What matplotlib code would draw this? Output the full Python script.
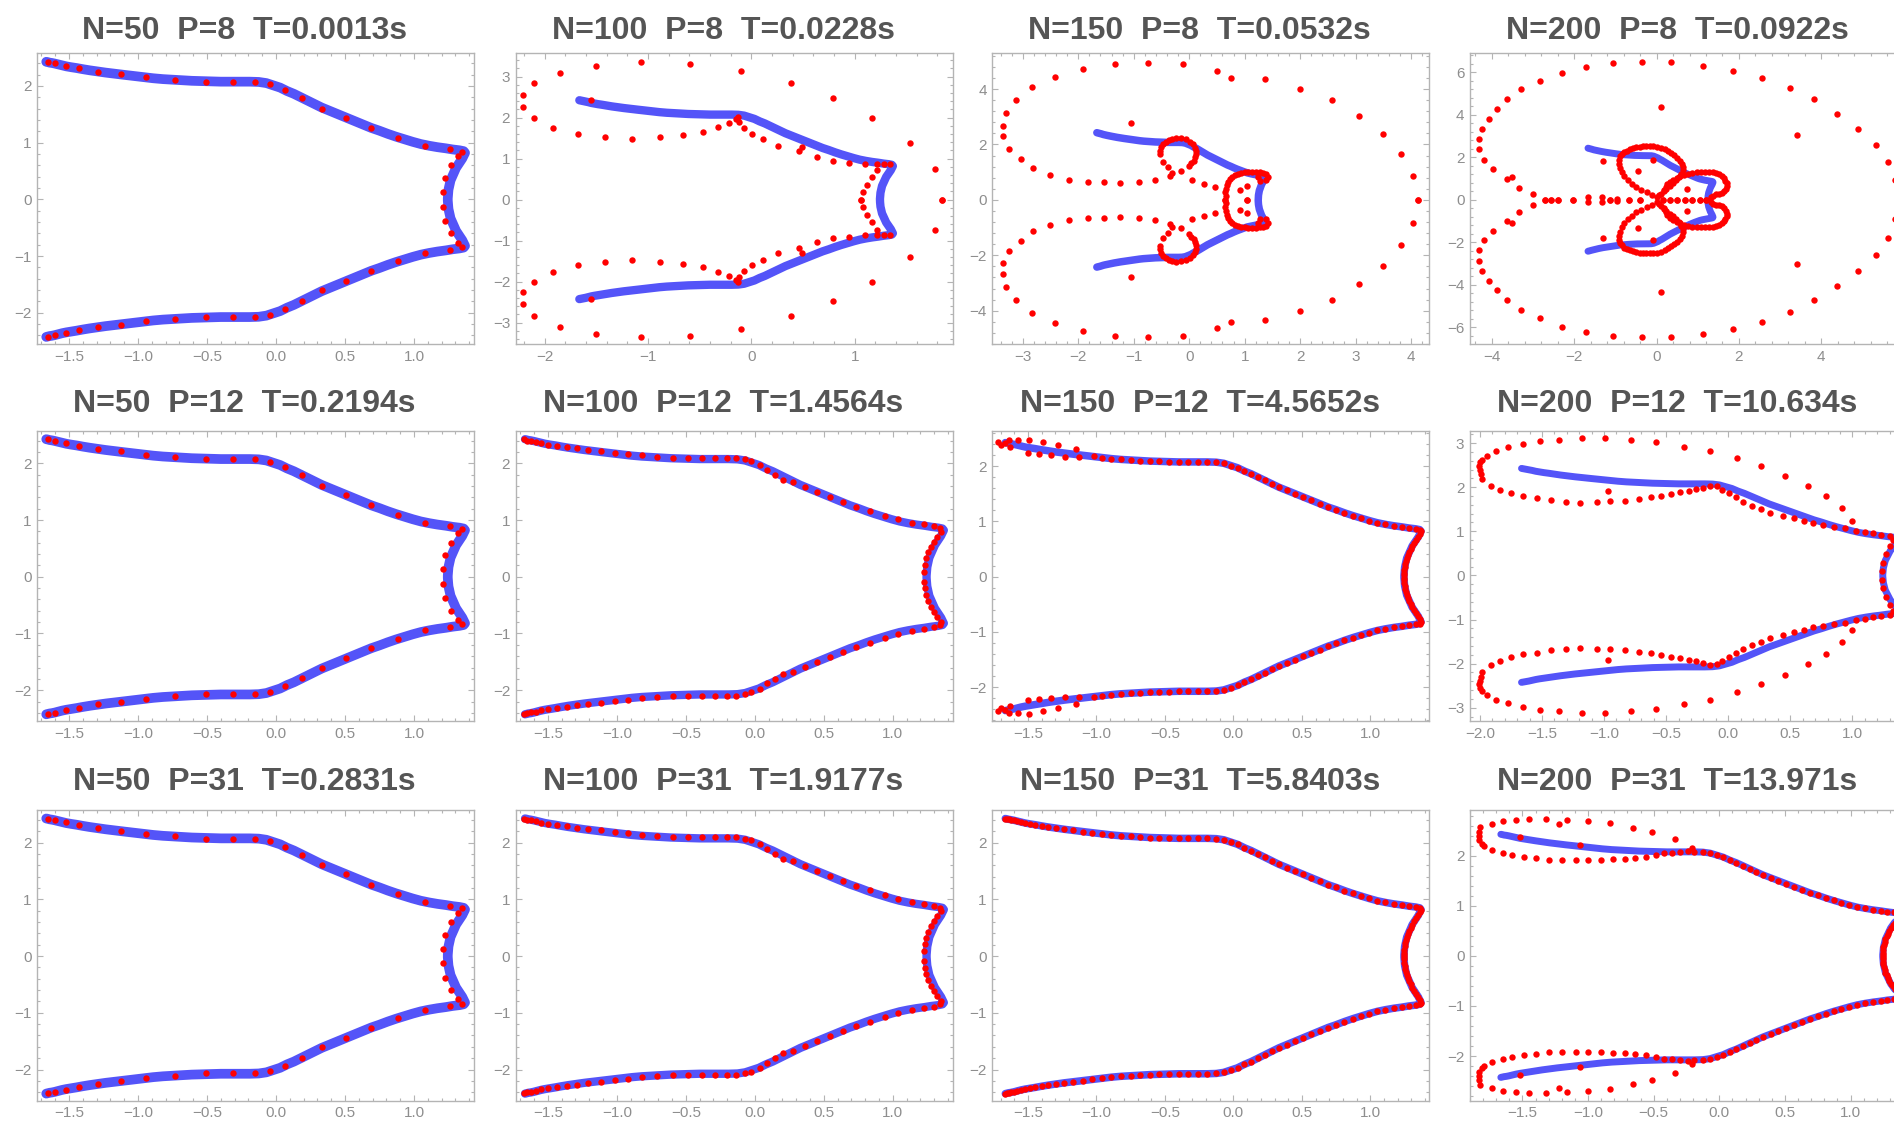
import numpy as np
import matplotlib
matplotlib.use("Agg")
import matplotlib.pyplot as plt
from matplotlib.ticker import AutoMinorLocator, FuncFormatter

# ---- data (upper halves, the plots are symmetric in y) ----
n_values = [50, 100, 150, 200]
p_values = [8, 12, 31]
times = [["0.0013", "0.0228", "0.0532", "0.0922"],
         ["0.2194", "1.4564", "4.5652", "10.634"],
         ["0.2831", "1.9177", "5.8403", "13.971"]]

# reference curve (blue)
curve_x = [-1.665, -1.655, -1.64, -1.625, -1.605, -1.58, -1.55, -1.52, -1.485, -1.445, -1.40,
           -1.35, -1.295, -1.235, -1.17, -1.10, -1.03, -0.96, -0.89, -0.82, -0.75, -0.68,
           -0.61, -0.54, -0.47, -0.40, -0.33, -0.26, -0.19, -0.125, -0.07,
           -0.02, 0.03, 0.08, 0.13, 0.18, 0.23, 0.28, 0.33, 0.39, 0.45, 0.51, 0.57, 0.63,
           0.69, 0.75, 0.81, 0.87, 0.93, 0.99, 1.05, 1.11, 1.17, 1.23, 1.28, 1.33, 1.36,
           1.37, 1.36, 1.35, 1.335, 1.32, 1.305, 1.295, 1.285, 1.275, 1.265, 1.26, 1.255,
           1.25, 1.248, 1.246, 1.245]
curve_y = [2.425, 2.42, 2.41, 2.405, 2.395, 2.38, 2.36, 2.345, 2.33, 2.315, 2.295,
           2.275, 2.255, 2.235, 2.215, 2.195, 2.175, 2.155, 2.135, 2.12, 2.11, 2.10,
           2.09, 2.085, 2.08, 2.075, 2.075, 2.075, 2.075, 2.07, 2.05,
           2.01, 1.97, 1.91, 1.86, 1.80, 1.74, 1.68, 1.62, 1.56, 1.50, 1.44, 1.38, 1.32,
           1.26, 1.21, 1.155, 1.105, 1.06, 1.015, 0.975, 0.945, 0.92, 0.90, 0.88, 0.865, 0.85,
           0.82, 0.77, 0.72, 0.665, 0.61, 0.555, 0.50, 0.445, 0.39, 0.335, 0.28, 0.225,
           0.17, 0.115, 0.06, 0.02]

# N=50 reconstructions (same for P=8,12,31)
n50_x = [-1.655, -1.601, -1.524, -1.428, -1.292, -1.123, -0.942, -0.732, -0.510, -0.309,
         -0.152, -0.041, 0.068, 0.191, 0.336, 0.505, 0.688, 0.881, 1.082, 1.258, 1.345,
         1.321, 1.268, 1.225, 1.208]
n50_y = [2.42, 2.40, 2.357, 2.31, 2.25, 2.21, 2.15, 2.11, 2.07, 2.07, 2.07, 2.03, 1.93,
         1.79, 1.60, 1.44, 1.26, 1.09, 0.946, 0.887, 0.84, 0.764, 0.60, 0.38, 0.13]

# N=100, P=12 / P=31
n100_x = [-1.674, -1.65, -1.625, -1.587, -1.546, -1.498, -1.432, -1.36, -1.288, -1.208,
          -1.118, -1.014, -0.918, -0.814, -0.712, -0.592, -0.483, -0.379, -0.29, -0.205,
          -0.133, -0.072, -0.024, 0.036, 0.089, 0.145, 0.205, 0.278, 0.362, 0.452, 0.543,
          0.64, 0.737, 0.838, 0.942, 1.039, 1.14, 1.227, 1.297, 1.34, 1.352, 1.321, 1.297,
          1.28, 1.256, 1.244, 1.232, 1.225]
n100_y = [2.42, 2.40, 2.39, 2.376, 2.35, 2.33, 2.31, 2.29, 2.265, 2.24, 2.22, 2.19, 2.17,
          2.14, 2.12, 2.10, 2.10, 2.10, 2.10, 2.10, 2.095, 2.07, 2.04, 1.97, 1.88, 1.80,
          1.71, 1.676, 1.59, 1.50, 1.41, 1.32, 1.23, 1.16, 1.076, 1.012, 0.953, 0.924, 0.89,
          0.853, 0.795, 0.706, 0.617, 0.529, 0.43, 0.324, 0.206, 0.088]

# N=100, P=8
n100p8_x = [-2.21, -2.10, -1.855, -1.507, -1.072, -0.592, -0.097, 0.383, 0.795, 1.172,
            1.533, 1.775, 1.85, -2.21, -2.10, -1.92, -1.68, -1.42, -1.153, -0.889, -0.657,
            -0.47, -0.322, -0.219, -0.148, -0.132, -0.116, -0.074, 0.003, 0.116, 0.261,
            0.464, 0.49, 0.631, 0.795, 0.947, 1.098, 1.22, 1.285, 1.34, 1.22, 1.166, 1.118,
            1.083, 1.06, -1.549]
n100p8_y = [2.55, 2.84, 3.10, 3.27, 3.35, 3.32, 3.15, 2.84, 2.47, 2.0, 1.39, 0.74, 0.0,
            2.25, 2.0, 1.76, 1.59, 1.52, 1.48, 1.52, 1.57, 1.65, 1.77, 1.86, 1.96, 2.02,
            1.89, 1.74, 1.59, 1.47, 1.31, 1.18, 1.29, 1.04, 0.94, 0.90, 0.87, 0.86, 0.86,
            0.87, 0.73, 0.55, 0.37, 0.19, 0.0, 2.43]

# N=150, P=8
n150p8_x = [-3.35, -3.35, -3.30, -3.13, -2.84, -2.42, -1.91, -1.34, -0.74, -0.12, 0.50,
            0.75, 1.37, 1.99, 2.57, 3.07, 3.50, 3.82, 4.04, 4.12, -1.05,
            -3.24, -3.04, -2.81, -2.51, -2.17, -1.82, -1.53, -1.24, -0.90, -0.62, -0.35, -0.14,
            -0.53, -0.51, -0.425, -0.31, -0.14, 0.02, 0.11, 0.12, 0.08, -0.01, -0.47, -0.38,
            -0.31, 0.05, 0.26, 0.47,
            -0.53, -0.47, -0.37, -0.23, -0.06, 0.07, 0.12, 0.11, 0.04,
            0.65, 0.65, 0.675, 0.735, 0.825, 0.94, 1.06, 1.2, 1.33, 1.43, 1.39, 1.27, 1.24,
            0.91, 1.04, 1.04,
            0.66, 0.66, 0.70, 0.78, 0.88, 1.0, 1.13, 1.27, 1.39]
n150p8_y = [2.29, 2.68, 3.14, 3.61, 4.07, 4.43, 4.73, 4.91, 4.95, 4.91, 4.64,
            4.40, 4.35, 4.0, 3.61, 3.02, 2.39, 1.64, 0.85, 0.0, 2.77,
            1.84, 1.48, 1.14, 0.90, 0.72, 0.64, 0.64, 0.60, 0.64, 0.72, 0.88, 1.03,
            1.66, 1.90, 2.10, 2.21, 2.22, 2.10, 1.88, 1.64, 1.42, 1.24, 1.36, 1.18,
            0.96, 0.70, 0.58, 0.48,
            1.78, 2.01, 2.17, 2.23, 2.18, 2.0, 1.76, 1.53, 1.33,
            0.0, 0.27, 0.54, 0.76, 0.90, 0.98, 1.0, 1.0, 0.98, 0.84, 0.70, 0.68, 0.83,
            0.37, 0.49, 0.0,
            0.13, 0.41, 0.66, 0.84, 0.95, 0.995, 1.0, 0.995, 0.93]

# N=150, P=12: scattered points at the left end (rest follows the curve)
n150p12_x = [-1.72, -1.70, -1.67, -1.64, -1.63, -1.57, -1.49, -1.50, -1.42, -1.39, -1.33,
             -1.28, -1.23, -1.15, -1.13, -1.02]
n150p12_y = [2.44, 2.38, 2.41, 2.47, 2.35, 2.47, 2.48, 2.23, 2.22, 2.44, 2.20, 2.38, 2.17,
             2.31, 2.17, 2.18]

# N=200, P=8
n200p8_x = [-4.31, -4.31, -4.25, -4.07, -3.87, -3.62, -3.29, -2.83, -2.30, -1.72, -1.07,
            -0.36, 0.36, 1.13, 1.86, 2.56, 3.24, 3.83, 4.39, 4.89, 5.32, 5.62, 5.78, 5.85,
            0.10, 3.40, -1.30, -0.45, -0.08, 0.73,
            -4.19, -3.97, -3.62, -3.52, -3.34, -3.0,
            -2.71, -2.56, -2.39, -2.02, -1.66, -1.32, -1.13, -0.95, -0.67, -0.41,
            0.0, -0.24, -0.49, -0.70, -0.85, -0.92, -0.89, -0.79, -0.65, -0.49, -0.33, -0.16,
            0.01, 0.2, 0.36, 0.5, 0.61, 0.63, 0.55, 0.40, 0.24, 0.10,
            -0.12, -0.37, -0.60, -0.78, -0.89, -0.92, -0.85, -0.72, -0.57, -0.41, -0.25, -0.08,
            0.11, 0.28, 0.43, 0.56, 0.63, 0.60, 0.48, 0.32, 0.17, 0.05,
            0.18, 0.26, 0.40, 0.58, 0.77, 0.97, 1.17, 1.36, 1.52, 1.63, 1.70, 1.68, 1.58,
            1.44, 1.31,
            0.22, 0.32, 0.49, 0.67, 0.87, 1.07, 1.27, 1.44, 1.58, 1.67, 1.70, 1.64, 1.51, 1.37,
            0.15, 0.32, 0.5, 0.69, 0.86, 1.05, 1.21]
n200p8_y = [2.37, 2.88, 3.35, 3.82, 4.27, 4.72, 5.2, 5.58, 5.97, 6.24, 6.41,
            6.46, 6.46, 6.30, 6.08, 5.75, 5.27, 4.72, 4.05, 3.35, 2.59, 1.78, 0.91, 0.0,
            4.34, 3.03, 1.82, 1.33, 1.89, 0.52,
            1.89, 1.45, 0.99, 1.09, 0.57, 0.25,
            0.0, 0.0, 0.0, 0.0, 0.13, 0.13, 0.0, 0.05, 0.0, 0.0,
            0.12, 0.36, 0.6, 0.91, 1.30, 1.70, 2.04, 2.25, 2.37, 2.47, 2.51, 2.53,
            2.49, 2.37, 2.2, 1.98, 1.70, 1.38, 1.07, 0.78, 0.52, 0.28,
            0.24, 0.48, 0.75, 1.10, 1.50, 1.88, 2.15, 2.31, 2.42, 2.49, 2.52, 2.52,
            2.44, 2.29, 2.09, 1.84, 1.54, 1.22, 0.92, 0.65, 0.40, 0.2,
            0.44, 0.72, 0.94, 1.11, 1.23, 1.29, 1.3, 1.29, 1.19, 1.02, 0.78, 0.52, 0.31,
            0.25, 0.12,
            0.58, 0.84, 1.03, 1.17, 1.27, 1.30, 1.30, 1.25, 1.11, 0.90, 0.65, 0.41, 0.27, 0.18,
            0.0, 0.0, 0.0, 0.0, 0.0, 0.0, 0.0]

# N=200, P=12
n200p12_x = [-2.0, -2.01, -2.0, -1.98, -1.94, -1.87, -1.77, -1.65, -1.52, -1.36, -1.18,
             -0.99, -0.78, -0.58, -0.36, -0.15, 0.07, 0.26, 0.46, 0.64, 0.79, 0.92, 1.0,
             -0.97, -1.99,
             -1.98, -1.91, -1.84, -1.75, -1.65, -1.54, -1.43, -1.31, -1.19, -1.06, -0.95,
             -0.83, -0.72, -0.62, -0.54, -0.46, -0.39, -0.32, -0.26, -0.2, -0.15, -0.09,
             -0.05, 0.01, 0.06, 0.12, 0.19, 0.26, 0.34, 0.44, 0.53, 0.61, 0.68, 0.76, 0.85,
             0.94, 1.03, 1.1, 1.17, 1.23, 1.30, 1.33, 1.30, 1.27, 1.25, 1.24]
n200p12_y = [2.39, 2.47, 2.56, 2.61, 2.71, 2.83, 2.90, 2.98, 3.05, 3.08, 3.11,
             3.11, 3.08, 3.03, 2.92, 2.82, 2.65, 2.47, 2.26, 2.02, 1.79, 1.52, 1.23,
             1.92, 2.30,
             2.18, 2.03, 1.94, 1.86, 1.79, 1.75, 1.70, 1.67, 1.65, 1.66, 1.68,
             1.69, 1.73, 1.77, 1.80, 1.84, 1.88, 1.91, 1.95, 1.99, 2.03, 2.02,
             1.94, 1.86, 1.77, 1.67, 1.58, 1.51, 1.42, 1.35, 1.29, 1.23, 1.18, 1.14, 1.10,
             1.07, 1.01, 0.99, 0.95, 0.92, 0.89, 0.81, 0.67, 0.48, 0.28, 0.10]

# N=200, P=31: loop at the left end (rest follows the curve)
n200p31_x = [-1.83, -1.83, -1.82, -1.73, -1.65, -1.55, -1.45, -1.32, -1.22, -1.16, -1.0,
             -0.83, -0.66, -0.51, -0.34, -1.52, -1.06,
             -1.83, -1.81, -1.79, -1.73, -1.65, -1.58, -1.49, -1.40, -1.30, -1.20, -1.09,
             -1.0, -0.90, -0.81, -0.72, -0.64, -0.56, -0.48, -0.42, -0.36, -0.30, -0.24, -0.21]
n200p31_y = [2.40, 2.48, 2.57, 2.63, 2.69, 2.71, 2.73, 2.73, 2.63, 2.71, 2.69,
             2.65, 2.56, 2.47, 2.33, 2.37, 2.22,
             2.32, 2.24, 2.2, 2.12, 2.06, 2.02, 1.97, 1.95, 1.92, 1.91, 1.91,
             1.92, 1.92, 1.93, 1.94, 1.96, 1.98, 2.01, 2.05, 2.06, 2.08, 2.1, 2.15]

cx = np.array(curve_x)
cy = np.array(curve_y)
on_curve_150 = (cx, cy)
right_of_m1 = (cx[cx > -1.0], cy[cx > -1.0])
right_of_m02 = (cx[cx > -0.2], cy[cx > -0.2])

red = [
    [(n50_x, n50_y), (n100p8_x, n100p8_y), (n150p8_x, n150p8_y), (n200p8_x, n200p8_y)],
    [(n50_x, n50_y), (n100_x, n100_y),
     (np.r_[n150p12_x, right_of_m1[0]], np.r_[n150p12_y, right_of_m1[1]]),
     (n200p12_x, n200p12_y)],
    [(n50_x, n50_y), (n100_x, n100_y), on_curve_150,
     (np.r_[n200p31_x, right_of_m02[0]], np.r_[n200p31_y, right_of_m02[1]])],
]

# ---- layout (pixels of a 1894 x 1125 canvas) ----
W, H = 1894, 1125
col_left = [37, 515.8, 992.3, 1470]
row_top = [53.3, 430.7, 810]
ax_w, ax_h = 437, 290.7
title_base = [39, 412.3, 790]

half = [-1.5, -1.0, -0.5, 0.0, 0.5, 1.0]
xlims = [[(-1.732, 1.435), (-2.28, 1.95), (-3.55, 4.33), (-4.53, 6.08)],
         [(-1.732, 1.435), (-1.732, 1.435), (-1.76, 1.43), (-2.08, 1.44)],
         [(-1.732, 1.435), (-1.732, 1.435), (-1.76, 1.43), (-1.90, 1.43)]]
ylims = [[(-2.55, 2.575), (-3.52, 3.57), (-5.2, 5.29), (-6.79, 6.89)],
         [(-2.55, 2.575), (-2.55, 2.575), (-2.62, 2.64), (-3.31, 3.28)],
         [(-2.55, 2.575), (-2.55, 2.575), (-2.55, 2.575), (-2.89, 2.91)]]
xticks = [[half, [-2, -1, 0, 1], [-3, -2, -1, 0, 1, 2, 3, 4], [-4, -2, 0, 2, 4]],
          [half, half, half, [-2.0] + half],
          [half, half, half, half]]
yticks = [[[-2, -1, 0, 1, 2], [-3, -2, -1, 0, 1, 2, 3], [-4, -2, 0, 2, 4], [-6, -4, -2, 0, 2, 4, 6]],
          [[-2, -1, 0, 1, 2]] * 3 + [[-3, -2, -1, 0, 1, 2, 3]],
          [[-2, -1, 0, 1, 2]] * 4]
blue_lw = [7.0, 6.0, 5.4, 5.0]

BLUE = "#5454f8"
FRAME = "#b4b4b4"
LABEL = "#8e8e8e"


def fmt_dec(v, pos):
    s = "%.1f" % v
    if abs(v) < 1e-9:
        s = "0.0"
    return s.replace("-", "\u2212")


def fmt_int(v, pos):
    s = "%d" % round(v)
    return s.replace("-", "\u2212")


plt.rcParams["font.family"] = ["Liberation Sans", "DejaVu Sans"]
fig = plt.figure(figsize=(W / 100, H / 100), dpi=100)

bx = np.r_[cx, cx[::-1]]
by = np.r_[cy, -cy[::-1]]

for r in range(3):
    for c in range(4):
        ax = fig.add_axes([col_left[c] / W, 1 - (row_top[r] + ax_h) / H, ax_w / W, ax_h / H])
        ax.plot(bx, by, color=BLUE, lw=blue_lw[c], solid_capstyle="round",
                solid_joinstyle="round", zorder=2)
        rx = np.asarray(red[r][c][0], dtype=float)
        ry = np.asarray(red[r][c][1], dtype=float)
        ax.plot(np.r_[rx, rx], np.r_[ry, -ry], "o", color="#ff0000", ms=4.6, mew=0, zorder=3)

        ax.set_xlim(*xlims[r][c])
        ax.set_ylim(*ylims[r][c])
        ax.set_xticks(xticks[r][c])
        ax.set_yticks(yticks[r][c])
        dec = any(abs(t - round(t)) > 1e-9 for t in xticks[r][c])
        ax.xaxis.set_major_formatter(FuncFormatter(fmt_dec if dec else fmt_int))
        ax.yaxis.set_major_formatter(FuncFormatter(fmt_int))
        ax.xaxis.set_minor_locator(AutoMinorLocator(5))
        ax.yaxis.set_minor_locator(AutoMinorLocator(5))
        ax.tick_params(which="both", direction="in", top=True, right=True,
                       color=FRAME, width=0.8, labelcolor=LABEL, labelsize=11)
        ax.tick_params(which="major", length=4.5, pad=4)
        ax.tick_params(which="minor", length=2.2)
        for sp in ax.spines.values():
            sp.set_color(FRAME)
            sp.set_linewidth(1.0)

        title = f"N={n_values[c]}  P={p_values[r]}  T={times[r][c]}s"
        fig.text((col_left[c] + ax_w / 2 - 11) / W, 1 - title_base[r] / H, title,
                 ha="center", va="baseline", fontsize=23, fontweight="bold", color="#555555")

fig.savefig("out.png", dpi=100)
